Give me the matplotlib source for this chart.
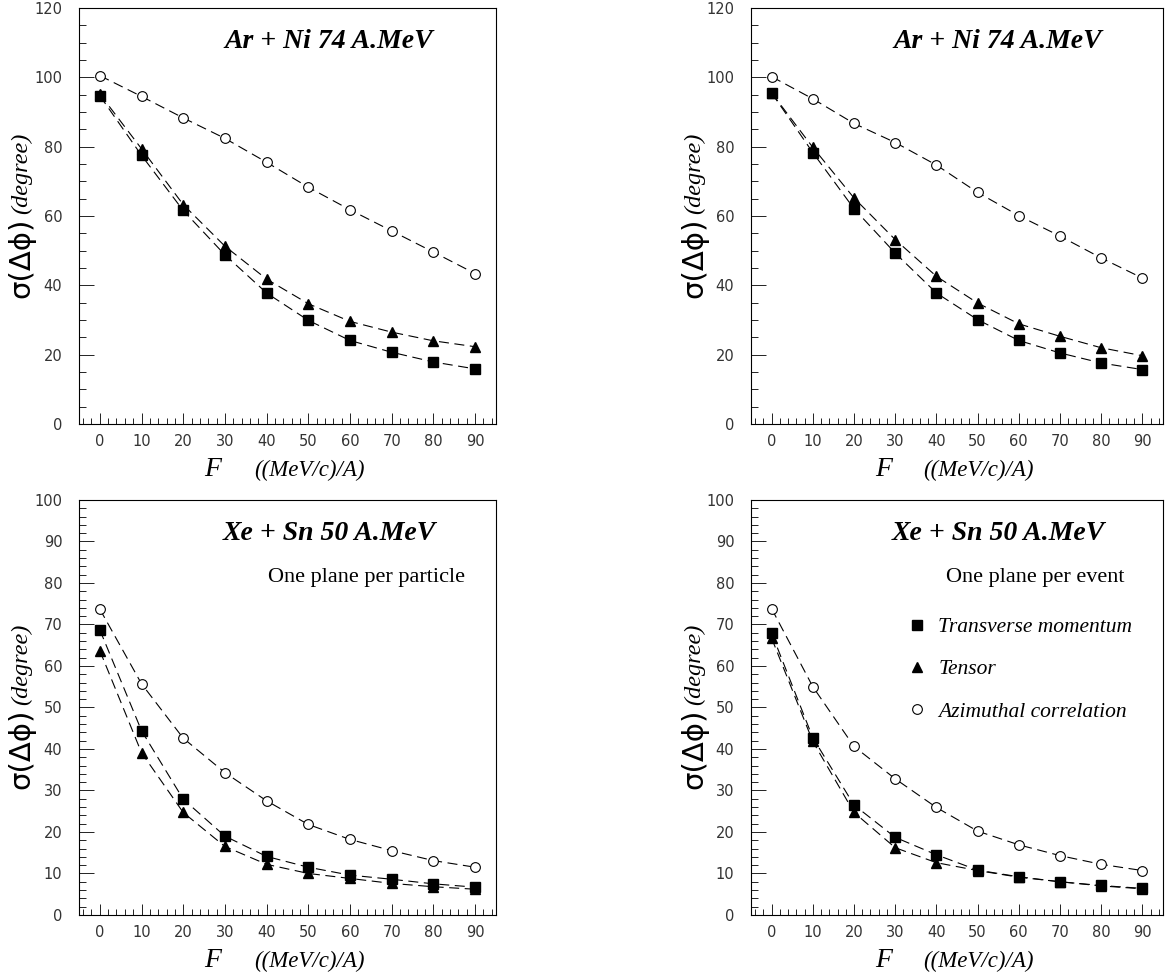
import numpy as np
import matplotlib.pyplot as plt
from matplotlib.ticker import MultipleLocator

# flow F values (MeV/c)/A
F = [0, 10, 20, 30, 40, 50, 60, 70, 80, 90]

# Ar + Ni 74 A.MeV, one plane per particle
arni_part_trans = [94.7, 77.5, 61.6, 48.8, 37.8, 29.9, 24.1, 20.7, 17.9, 15.9]
arni_part_tensor = [95.2, 79.4, 63.3, 51.3, 41.8, 34.7, 29.6, 26.5, 24.0, 22.3]
arni_part_azim = [100.5, 94.5, 88.3, 82.4, 75.5, 68.3, 61.8, 55.7, 49.6, 43.4]

# Ar + Ni 74 A.MeV, one plane per event
arni_evt_trans = [95.5, 78.3, 62.1, 49.3, 37.8, 30.1, 24.1, 20.5, 17.6, 15.7]
arni_evt_tensor = [95.5, 79.8, 65.2, 53.2, 42.6, 34.9, 28.9, 25.3, 22.0, 19.7]
arni_evt_azim = [100.2, 93.8, 86.7, 81.2, 74.7, 66.8, 60.1, 54.2, 47.9, 42.1]

# Xe + Sn 50 A.MeV, one plane per particle
xesn_part_trans = [68.7, 44.4, 27.9, 19.0, 14.1, 11.5, 9.6, 8.6, 7.5, 6.7]
xesn_part_tensor = [63.7, 39.1, 24.7, 16.5, 12.2, 10.0, 8.8, 7.6, 6.8, 6.2]
xesn_part_azim = [73.7, 55.7, 42.6, 34.3, 27.5, 21.8, 18.2, 15.5, 13.1, 11.5]

# Xe + Sn 50 A.MeV, one plane per event
xesn_evt_trans = [67.9, 42.7, 26.5, 18.7, 14.5, 10.8, 9.2, 8.0, 7.1, 6.4]
xesn_evt_tensor = [66.7, 41.8, 24.7, 16.2, 12.6, 10.7, 9.1, 8.0, 7.0, 6.3]
xesn_evt_azim = [73.8, 55.0, 40.6, 32.8, 25.9, 20.2, 16.9, 14.3, 12.2, 10.7]

labels = ["Transverse momentum", "Tensor", "Azimuthal correlation"]

serif = "Liberation Serif"
sans = "DejaVu Sans"

fig = plt.figure(figsize=(11.68, 9.77), dpi=100)

panels = [
    # rect, data, title, subtitle, ymax, ymaj, ymin, legend
    ([0.0676, 0.566, 0.357, 0.4258], (arni_part_trans, arni_part_tensor, arni_part_azim),
     "Ar + Ni 74 A.MeV", None, 120, 20, 5, False),
    ([0.643, 0.566, 0.3527, 0.4258], (arni_evt_trans, arni_evt_tensor, arni_evt_azim),
     "Ar + Ni 74 A.MeV", None, 120, 20, 5, False),
    ([0.0676, 0.0635, 0.357, 0.4248], (xesn_part_trans, xesn_part_tensor, xesn_part_azim),
     "Xe + Sn 50 A.MeV", "One plane per particle", 100, 10, 2, False),
    ([0.643, 0.0635, 0.3527, 0.4248], (xesn_evt_trans, xesn_evt_tensor, xesn_evt_azim),
     "Xe + Sn 50 A.MeV", "One plane per event", 100, 10, 2, True),
]

for rect, (trans, tensor, azim), title, sub, ymax, ymaj, ymin, leg in panels:
    ax = fig.add_axes(rect)
    for s in ax.spines.values():
        s.set_linewidth(0.8)

    for vals in (trans, tensor, azim):
        ax.plot(F, vals, color="black", lw=0.8, dashes=(9, 5), zorder=2)
    ax.plot(F, trans, ls="none", marker="s", ms=6.5, mfc="black", mec="black",
            label=labels[0], zorder=3)
    ax.plot(F, tensor, ls="none", marker="^", ms=6.5, mfc="black", mec="black",
            label=labels[1], zorder=3)
    ax.plot(F, azim, ls="none", marker="o", ms=7, mfc="white", mec="black",
            mew=0.8, label=labels[2], zorder=3)

    ax.set_xlim(-5, 95)
    ax.set_ylim(0, ymax)
    ax.xaxis.set_major_locator(MultipleLocator(10))
    ax.xaxis.set_minor_locator(MultipleLocator(2))
    ax.yaxis.set_major_locator(MultipleLocator(ymaj))
    ax.yaxis.set_minor_locator(MultipleLocator(ymin))
    ax.tick_params(axis="both", which="both", direction="in", width=0.7,
                   top=False, right=False, colors="#222222", labelcolor="#333333")
    ax.tick_params(axis="x", which="major", length=8, pad=7, labelsize=10.5)
    ax.tick_params(axis="x", which="minor", length=4)
    ax.tick_params(axis="y", which="major", length=11, pad=12, labelsize=10.5)
    ax.tick_params(axis="y", which="minor", length=5)

    ax.text(0.60, 0.92, title, transform=ax.transAxes, ha="center", va="center",
            family=serif, style="italic", weight="bold", fontsize=20)
    if sub:
        ax.text(0.69, 0.814, sub, transform=ax.transAxes, ha="center", va="center",
                family=serif, fontsize=16)

    # y label: sigma part in sans, unit in italic serif
    ax.text(-0.137, 0.497, "σ(Δϕ)", transform=ax.transAxes, rotation=90,
            ha="center", va="top", family=sans, fontsize=21)
    ax.text(-0.137, 0.505, "(degree)", transform=ax.transAxes, rotation=90,
            ha="center", va="bottom", family=serif, style="italic", fontsize=17.5)
    # x label
    ax.text(0.321, -0.125, "F", transform=ax.transAxes, ha="center", va="baseline",
            family=serif, style="italic", fontsize=20)
    ax.text(0.552, -0.125, "((MeV/c)/A)", transform=ax.transAxes, ha="center",
            va="baseline", family=serif, style="italic", fontsize=16.5)

    if leg:
        ax.legend(loc="upper left", bbox_to_anchor=(0.376, 0.718), frameon=False,
                  prop={"family": serif, "style": "italic", "size": 15.5},
                  handlelength=1.0, handletextpad=0.5, labelspacing=1.03,
                  borderpad=0, borderaxespad=0)

fig.savefig("out.png", dpi=100)
